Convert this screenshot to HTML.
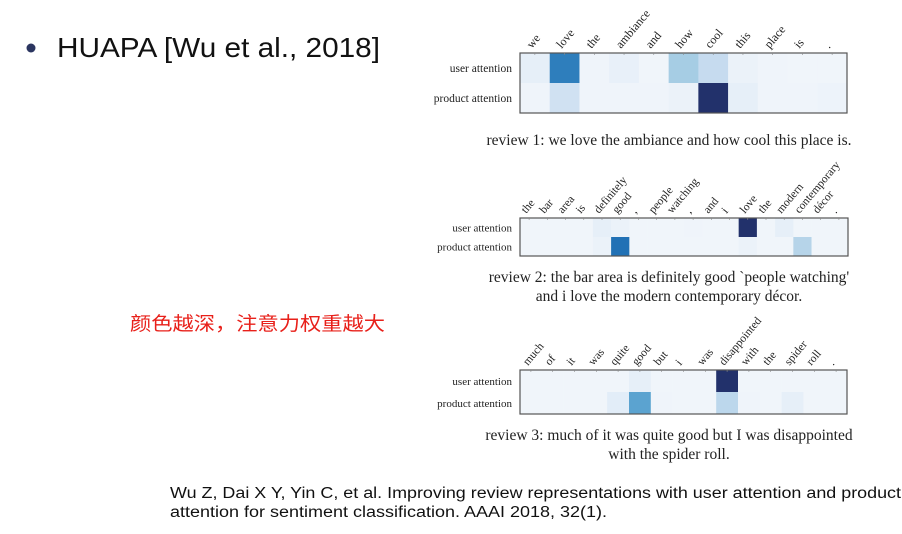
<!DOCTYPE html>
<html><head><meta charset="utf-8"><style>
html,body{margin:0;padding:0;background:#fff;width:902px;height:534px;overflow:hidden}
svg{display:block}
.serif{font-family:"Liberation Serif",serif;fill:#222}
</style></head><body>
<svg id="root" width="902" height="534" viewBox="0 0 902 534" xmlns="http://www.w3.org/2000/svg">
<g>
<circle cx="31" cy="48" r="4.5" fill="#2b3560"/>
<text x="57" y="57" font-family="Liberation Sans, sans-serif" font-size="28" fill="#111" textLength="323" lengthAdjust="spacingAndGlyphs">HUAPA [Wu et al., 2018]</text>
</g>
<text x="130" y="330" font-family="'Liberation Sans','Noto Sans CJK SC',sans-serif" font-size="19" fill="#e8201a" textLength="255" lengthAdjust="spacingAndGlyphs">颜色越深，注意力权重越大</text>
<g font-family="Liberation Sans, sans-serif" font-size="15.5" fill="#111">
<text x="170" y="498" textLength="731" lengthAdjust="spacingAndGlyphs">Wu Z, Dai X Y, Yin C, et al. Improving review representations with user attention and product</text>
<text x="170" y="517" textLength="437" lengthAdjust="spacingAndGlyphs">attention for sentiment classification. AAAI 2018, 32(1).</text>
</g>
<g id="charts"></g>
</svg>
<script>
const words1 = ["we","love","the","ambiance","and","how","cool","this","place","is","."];
const user1 = [0.08,0.7,0.03,0.07,0.02,0.35,0.25,0.05,0.03,0.02,0.02];
const prod1 = [0.03,0.2,0.03,0.03,0.03,0.05,1.0,0.08,0.03,0.03,0.04];
const words2 = ["the","bar","area","is","definitely","good",",","people","watching",",","and","i","love","the","modern","contemporary","décor","."];
const user2 = [0.02,0.02,0.02,0.02,0.08,0.05,0.02,0.02,0.02,0.03,0.02,0.02,1.0,0.02,0.08,0.02,0.02,0.02];
const prod2 = [0.02,0.02,0.02,0.02,0.05,0.75,0.02,0.02,0.02,0.02,0.02,0.02,0.05,0.02,0.02,0.3,0.02,0.02];
const words3 = ["much","of","it","was","quite","good","but","i","was","disappointed","with","the","spider","roll","."];
const user3 = [0.02,0.02,0.02,0.02,0.02,0.08,0.02,0.02,0.02,1.0,0.02,0.02,0.02,0.02,0.02];
const prod3 = [0.02,0.02,0.02,0.02,0.1,0.55,0.03,0.02,0.02,0.28,0.03,0.02,0.08,0.02,0.02];
const rowLabels = ["user attention","product attention"];
const captions1 = ["review 1: we love the ambiance and how cool this place is."];
const captions2 = ["review 2: the bar area is definitely good `people watching'","and i love the modern contemporary décor."];
const captions3 = ["review 3: much of it was quite good but I was disappointed","with the spider roll."];

const stops=[[244,247,251],[222,235,247],[198,219,239],[158,202,225],[107,174,214],[66,146,198],[33,113,181],[20,80,150],[34,49,107]];
function color(v){v=Math.max(0,Math.min(1,v));const p=v*(stops.length-1),i=Math.min(Math.floor(p),stops.length-2),t=p-i;
 const c=stops[i].map((a,k)=>Math.round(a+(stops[i+1][k]-a)*t));return `rgb(${c})`;}
const NS="http://www.w3.org/2000/svg";
const root=document.getElementById('charts');
function el(tag,attrs,parent){const e=document.createElementNS(NS,tag);for(const k in attrs)e.setAttribute(k,attrs[k]);parent.appendChild(e);return e;}
function heatmap(name,words,rows,x0,y0,x1,y1,caps,capY,fs,cfs){
 const g=el('g',{},root);
 
 
 const n=words.length,cw=(x1-x0)/n,rh=(y1-y0)/rows.length;
 const xs=i=>x0+i*cw, ys=r=>y0+r*rh;
 rows.forEach((vals,r)=>{vals.forEach((v,i)=>{
  const c=el('rect',{x:xs(i),y:ys(r),width:cw+0.3,height:rh+0.3,fill:color(v)},g);
  
  
 });
  const t=el('text',{x:x0-8,y:ys(r)+rh/2+4,'text-anchor':'end','class':'serif','font-size':fs},g);
  t.textContent=rowLabels[r];
  
  
 });
 const b=el('rect',{x:x0,y:y0,width:x1-x0,height:y1-y0,fill:'none',stroke:'#555','stroke-width':1.2},g);
 
 
 words.forEach((w,i)=>{const cx=xs(i)+cw/2;
  el('line',{x1:cx,y1:y0,x2:cx,y2:y0+2,stroke:'#888','stroke-width':0.6},g);
  const t=el('text',{x:cx-3,y:y0-4,transform:`rotate(-50 ${cx-3} ${y0-4})`,'class':'serif','font-size':cfs},g);
  t.textContent=w;
  
  
 });
 caps.forEach((c,k)=>{const t=el('text',{x:669,y:capY+k*19,'text-anchor':'middle','class':'serif','font-size':15.5},g);
  t.textContent=c;
  
  
 });
}
heatmap('heatmap-review-1',words1,[user1,prod1],520,53,847,113,captions1,145,11.5,12);
heatmap('heatmap-review-2',words2,[user2,prod2],520,218,848,256,captions2,282,11,11.5);
heatmap('heatmap-review-3',words3,[user3,prod3],520,370,847,414,captions3,440,11,11.5);
</script>
</body></html>
